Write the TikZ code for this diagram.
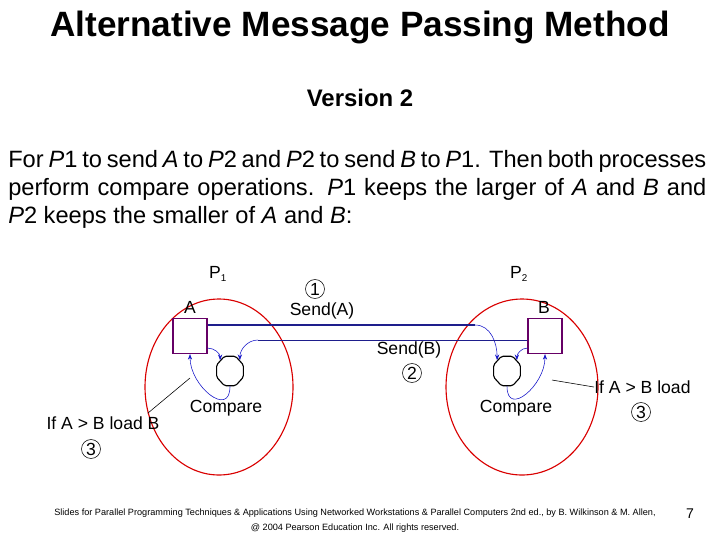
\documentclass[tikz,border=0pt]{standalone}
\usepackage{fontspec}
\setmainfont{Liberation Sans}
\usetikzlibrary{shapes.geometric,arrows.meta}
\definecolor{nv}{RGB}{30,30,140}
\definecolor{bl}{RGB}{20,20,200}
\begin{document}
\begin{tikzpicture}[x=0.025cm,y=-0.025cm,
 reg/.style={draw=violet!80!black,thick,minimum width=34*0.025cm,minimum height=35*0.025cm,inner sep=0},
 cmp/.style={draw,regular polygon,regular polygon sides=8,rounded corners=1.2pt,minimum size=29*0.025cm,inner sep=0,thick,yscale=1.1},
 lbl/.style={font=\fontsize{12.5}{14}\selectfont,inner sep=0},
 num/.style={draw,circle,minimum size=19*0.025cm,inner sep=0,font=\fontsize{12.5}{14}\selectfont},
 ar/.style={-{Stealth[length=4pt]},bl},
 msg/.style={nv,thick}]
\useasboundingbox (0,0) rectangle (720,540);
\node (title) at (360,27) {\fontsize{25}{28}\selectfont\bfseries Alternative Message Passing Method};
\node (ver) at (360,98) {\fontsize{17}{20}\selectfont\bfseries Version 2};
\node[text width=698*0.025cm,align=justify,inner sep=0,anchor=north west] (par) at (8,150)
 {\fontsize{16.8}{20}\selectfont For \textit{P}1 to send \textit{A} to \textit{P}2 and \textit{P}2 to send \textit{B} to \textit{P}1. Then both processes perform compare operations. \textit{P}1 keeps the larger of \textit{A} and \textit{B} and \textit{P}2 keeps the smaller of \textit{A} and \textit{B}:\par};
\draw[red!85!black,thick] (219,387) ellipse [x radius=74, y radius=88];
\draw[red!85!black,thick] (522,387) ellipse [x radius=76, y radius=88];
\node[reg] (A) at (190,336) {};
\node[reg] (B) at (545,336) {};
\node[cmp] (o1) at (230,371) {};
\node[cmp] (o2) at (507,371) {};
\node[lbl] (p1) at (218,274) {P\textsubscript{\fontsize{7}{8}\selectfont 1}};
\node[lbl] (p2) at (519,274) {P\textsubscript{\fontsize{7}{8}\selectfont 2}};
\node[lbl] (la) at (190,307) {A};
\node[lbl] (lb) at (544,307) {B};
\node[num] (n1) at (315,289) {1};
\node[lbl] (sa) at (322,311) {Send(A)};
\node[lbl] (sb) at (409,350) {Send(B)};
\node[num] (n2) at (412,373) {2};
\node[lbl] (cp1) at (226,408) {Compare};
\node[lbl] (cp2) at (516,408) {Compare};
\node[lbl] (ifl) at (103,423) {If A > B load B};
\node[num] (n3a) at (91,449) {3};
\node[lbl,anchor=west] (ifr) at (594,387) {If A > B load};
\node[num] (n3b) at (641,412) {3};
\coordinate (e1) at (475,325);
\coordinate (e2) at (258,340);
\draw[msg] (A.east |- 0,325) -- (e1);
\draw[ar] (e1) to[out=0,in=90] (o2.north west);
\draw[nv] (B.west |- 0,340) -- (e2);
\draw[ar] (e2) to[out=180,in=90] (o1.north east);
\draw[ar] (A.south east) ++(0,-6) to[out=0,in=90] (o1.north west);
\draw[ar] (B.south west) ++(0,-6) to[out=180,in=90] (o2.north east);
\draw[ar] (o1.south) to[out=-90,in=-90,looseness=1.6] (A.south);
\draw[ar] (o2.south) to[out=-90,in=-90,looseness=1.6] (B.south);
\draw (ifl.north east) ++(-12,-3) -- (190,378);
\draw (ifr.west) -- (552,380);
\node[font=\fontsize{6.5}{8}\selectfont] (f1) at (355,513) {Slides for Parallel Programming Techniques \& Applications Using Networked Workstations \& Parallel Computers 2nd ed., by B. Wilkinson \& M. Allen,};
\node[font=\fontsize{6.5}{8}\selectfont] (f2) at (355,528) {@ 2004 Pearson Education Inc. All rights reserved.};
\node[font=\fontsize{10}{12}\selectfont] (pg) at (690,514) {7};
\end{tikzpicture}
\end{document}
